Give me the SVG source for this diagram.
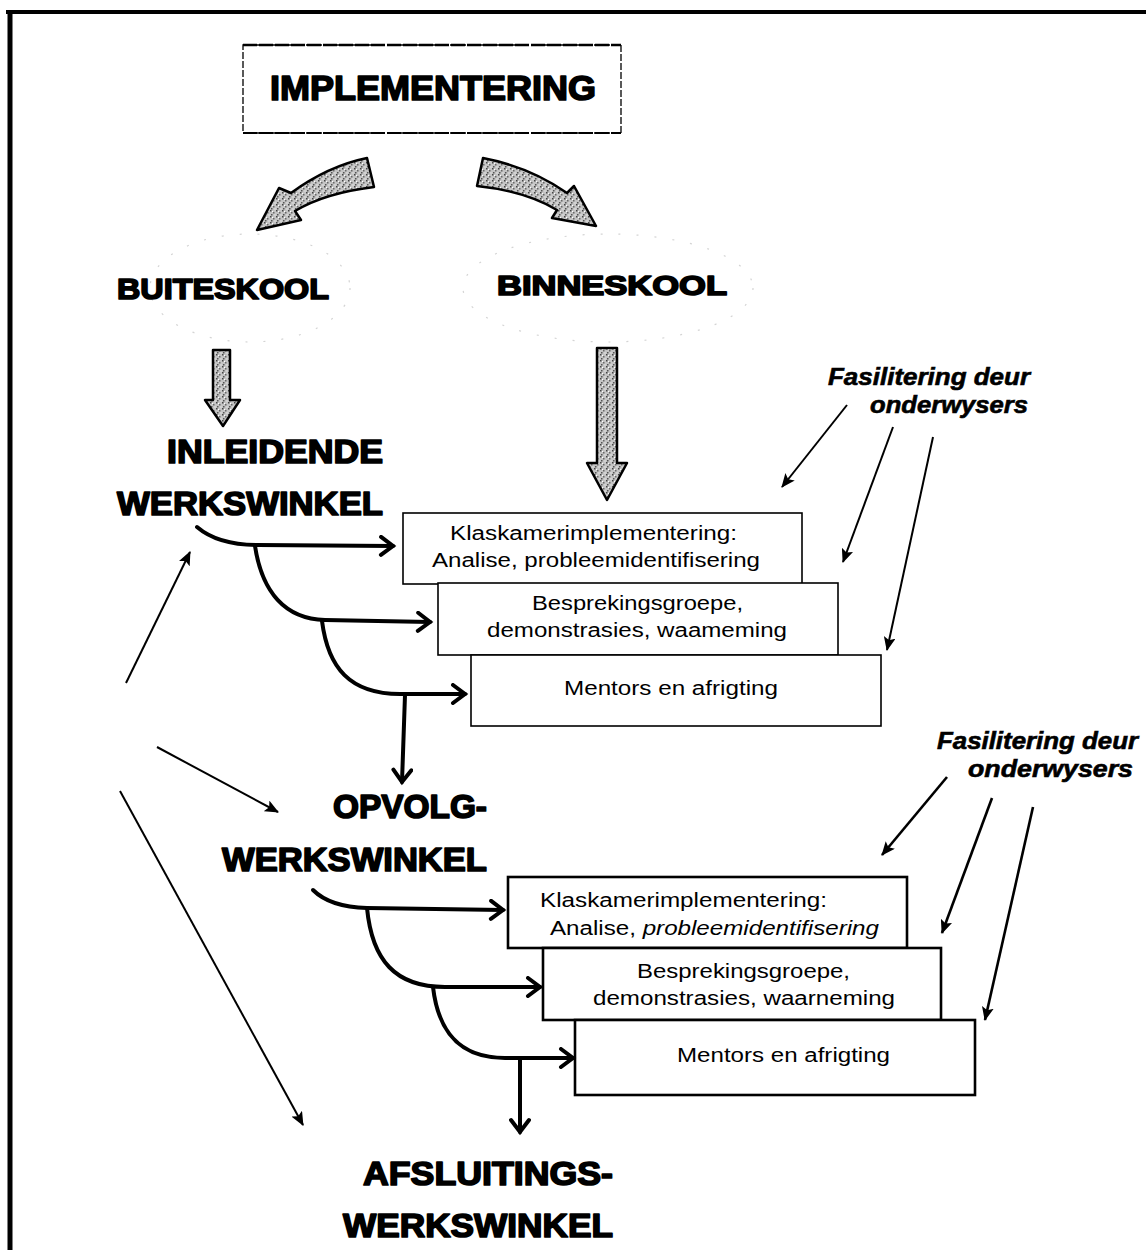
<svg xmlns="http://www.w3.org/2000/svg" width="1146" height="1250" viewBox="0 0 1146 1250">
<defs>
<style>
.hd{font-family:"Liberation Sans",Arial,sans-serif;font-weight:bold;fill:#000;stroke:#000;stroke-width:1.7;stroke-linejoin:round}
.bx{font-family:"Liberation Sans",Arial,sans-serif;font-size:20px;fill:#000}
.fa{font-family:"Liberation Sans",Arial,sans-serif;font-weight:bold;font-style:italic;font-size:23px;fill:#000;stroke:#000;stroke-width:0.6}
.box1{fill:#fff;stroke:#000;stroke-width:1.6}
.box2{fill:#fff;stroke:#000;stroke-width:2.6}
.thick{fill:none;stroke:#000;stroke-width:4;stroke-linecap:round}
.thin{fill:none;stroke:#000;stroke-width:2}
.thin2{fill:none;stroke:#000;stroke-width:2.6}
.blk{fill:url(#stip);stroke:#000;stroke-width:2.5;stroke-linejoin:round}
.cloud{fill:none;stroke:#d4d4d4;stroke-width:1.2;stroke-dasharray:2 16}
</style>
<pattern id="stip" width="6" height="6" patternUnits="userSpaceOnUse">
<rect width="6" height="6" fill="#c4c4c4"/>
<rect x="0" y="0" width="1.5" height="1.5" fill="#444"/>
<rect x="3" y="2" width="1.5" height="1.5" fill="#666"/>
<rect x="1" y="4" width="1.5" height="1.5" fill="#555"/>
<rect x="4.5" y="4.5" width="1" height="1" fill="#fff"/>
<rect x="2" y="1" width="1" height="1" fill="#fff"/>
</pattern>
<marker id="chev" markerUnits="userSpaceOnUse" markerWidth="20" markerHeight="22" viewBox="0 0 20 22" refX="16" refY="11" orient="auto">
<path d="M4,2 L16,11 L4,20" fill="none" stroke="#000" stroke-width="4" stroke-linecap="round" stroke-linejoin="miter"/>
</marker>
<marker id="tri" markerUnits="userSpaceOnUse" markerWidth="14" markerHeight="12" viewBox="0 0 14 12" refX="13" refY="6" orient="auto">
<path d="M0,0 L14,6 L0,12 L3,6 Z" fill="#000"/>
</marker>
</defs>
<rect width="1146" height="1250" fill="#fff"/>

<g id="border">
<line x1="6" y1="12" x2="1146" y2="12" stroke="#000" stroke-width="4"/>
<line x1="10" y1="10" x2="10" y2="1250" stroke="#000" stroke-width="5"/>
</g>

<g id="implementering">
<rect x="243" y="45" width="378" height="88" fill="#fff" stroke="#000" stroke-width="1.3" stroke-dasharray="7 2"/>
<line x1="243" y1="45" x2="621" y2="45" stroke="#000" stroke-width="2.5" stroke-dasharray="14 2"/>
<line x1="243" y1="133" x2="621" y2="133" stroke="#000" stroke-width="2" stroke-dasharray="14 2"/>
<text class="hd" x="270" y="100" font-size="35" textLength="326" lengthAdjust="spacingAndGlyphs">IMPLEMENTERING</text>
</g>

<g id="split-arrows">
<path class="blk" d="M367,158 Q328,166 291,193 L279,188 L257,230 L301,220 L295,211 Q325,193 374,187 Z"/>
<path class="blk" d="M483,158 Q530,167 567,193 L574,186 L596,226 L552,218 L557,210 Q525,191 477,186 Z"/>
</g>

<g id="buiteskool">
<ellipse class="cloud" cx="250" cy="288" rx="100" ry="54"/>
<text class="hd" x="117" y="299" font-size="30" textLength="212" lengthAdjust="spacingAndGlyphs">BUITESKOOL</text>
</g>
<g id="binneskool">
<ellipse class="cloud" cx="608" cy="288" rx="145" ry="54"/>
<text class="hd" x="497" y="295" font-size="28" textLength="230" lengthAdjust="spacingAndGlyphs">BINNESKOOL</text>
</g>

<g id="down-arrows">
<path class="blk" d="M213,350 L230,350 L230,400 L240,400 L223,426 L205,400 L213,400 Z"/>
<path class="blk" d="M597,348 L617,348 L617,463 L627,463 L607,500 L587,463 L597,463 Z"/>
</g>

<g id="inleidende">
<text class="hd" x="167" y="463" font-size="33" textLength="216" lengthAdjust="spacingAndGlyphs">INLEIDENDE</text>
<text class="hd" x="117" y="515" font-size="34" textLength="266" lengthAdjust="spacingAndGlyphs">WERKSWINKEL</text>
</g>

<g id="set1-klaskamer">
<rect class="box1" x="403" y="513" width="399" height="71"/>
<text class="bx" x="450" y="540" textLength="287" lengthAdjust="spacingAndGlyphs">Klaskamerimplementering:</text>
<text class="bx" x="432" y="567" textLength="328" lengthAdjust="spacingAndGlyphs">Analise, probleemidentifisering</text>
</g>
<g id="set1-besprekings">
<rect class="box1" x="438" y="583" width="400" height="72"/>
<text class="bx" x="532" y="610" textLength="211" lengthAdjust="spacingAndGlyphs">Besprekingsgroepe,</text>
<text class="bx" x="487" y="637" textLength="300" lengthAdjust="spacingAndGlyphs">demonstrasies, waameming</text>
</g>
<g id="set1-mentors">
<rect class="box1" x="471" y="655" width="410" height="71"/>
<text class="bx" x="564" y="695" textLength="214" lengthAdjust="spacingAndGlyphs">Mentors en afrigting</text>
</g>

<g id="fasilitering1">
<text class="fa" x="828" y="385" textLength="202" lengthAdjust="spacingAndGlyphs">Fasilitering deur</text>
<text class="fa" x="870" y="413" textLength="158" lengthAdjust="spacingAndGlyphs">onderwysers</text>
</g>

<g id="opvolg">
<text class="hd" x="333" y="818" font-size="34" textLength="154" lengthAdjust="spacingAndGlyphs">OPVOLG-</text>
<text class="hd" x="222" y="871" font-size="34" textLength="265" lengthAdjust="spacingAndGlyphs">WERKSWINKEL</text>
</g>

<g id="set2-klaskamer">
<rect class="box2" x="508" y="877" width="399" height="71"/>
<text class="bx" x="540" y="907" textLength="287" lengthAdjust="spacingAndGlyphs">Klaskamerimplementering:</text>
<text class="bx" x="550" y="935" textLength="329" lengthAdjust="spacingAndGlyphs">Analise, <tspan font-style="italic">probleemidentifisering</tspan></text>
</g>
<g id="set2-besprekings">
<rect class="box2" x="543" y="948" width="398" height="72"/>
<text class="bx" x="637" y="978" textLength="213" lengthAdjust="spacingAndGlyphs">Besprekingsgroepe,</text>
<text class="bx" x="593" y="1005" textLength="302" lengthAdjust="spacingAndGlyphs">demonstrasies, waarneming</text>
</g>
<g id="set2-mentors">
<rect class="box2" x="575" y="1020" width="400" height="75"/>
<text class="bx" x="677" y="1062" textLength="213" lengthAdjust="spacingAndGlyphs">Mentors en afrigting</text>
</g>

<g id="fasilitering2">
<text class="fa" x="937" y="749" textLength="201" lengthAdjust="spacingAndGlyphs">Fasilitering deur</text>
<text class="fa" x="968" y="777" textLength="165" lengthAdjust="spacingAndGlyphs">onderwysers</text>
</g>

<g id="afsluitings">
<text class="hd" x="363" y="1185" font-size="34" textLength="250" lengthAdjust="spacingAndGlyphs">AFSLUITINGS-</text>
<text class="hd" x="343" y="1237" font-size="34" textLength="270" lengthAdjust="spacingAndGlyphs">WERKSWINKEL</text>
</g>

<g id="connectors">
<path class="thick" d="M197,527 Q218,545 258,545 L393,546" marker-end="url(#chev)"/>
<path class="thick" d="M255,546 C262,592 285,619 325,620 L430,622" marker-end="url(#chev)"/>
<path class="thick" d="M322,621 C328,668 350,694 400,694 L465,694" marker-end="url(#chev)"/>
<path class="thick" d="M405,695 L402,782" stroke-width="3.5" marker-end="url(#chev)"/>

<path class="thick" d="M313,890 Q330,907 367,908 L503,910" marker-end="url(#chev)"/>
<path class="thick" d="M367,908 C372,960 395,987 445,987 L540,987" marker-end="url(#chev)"/>
<path class="thick" d="M433,987 C438,1030 458,1058 505,1058 L573,1058" marker-end="url(#chev)"/>
<path class="thick" d="M520,1060 L520,1132" stroke-width="3.5" marker-end="url(#chev)"/>

<line class="thin" x1="126" y1="683" x2="190" y2="552" marker-end="url(#tri)"/>
<line class="thin" x1="157" y1="747" x2="278" y2="812" marker-end="url(#tri)"/>
<line class="thin" x1="120" y1="791" x2="303" y2="1125" marker-end="url(#tri)"/>

<line class="thin" x1="847" y1="405" x2="782" y2="487" marker-end="url(#tri)"/>
<line class="thin" x1="893" y1="427" x2="843" y2="562" marker-end="url(#tri)"/>
<line class="thin" x1="933" y1="437" x2="887" y2="650" marker-end="url(#tri)"/>

<line class="thin2" x1="947" y1="777" x2="882" y2="855" marker-end="url(#tri)"/>
<line class="thin2" x1="992" y1="798" x2="942" y2="933" marker-end="url(#tri)"/>
<line class="thin2" x1="1033" y1="807" x2="985" y2="1020" marker-end="url(#tri)"/>
</g>
</svg>
